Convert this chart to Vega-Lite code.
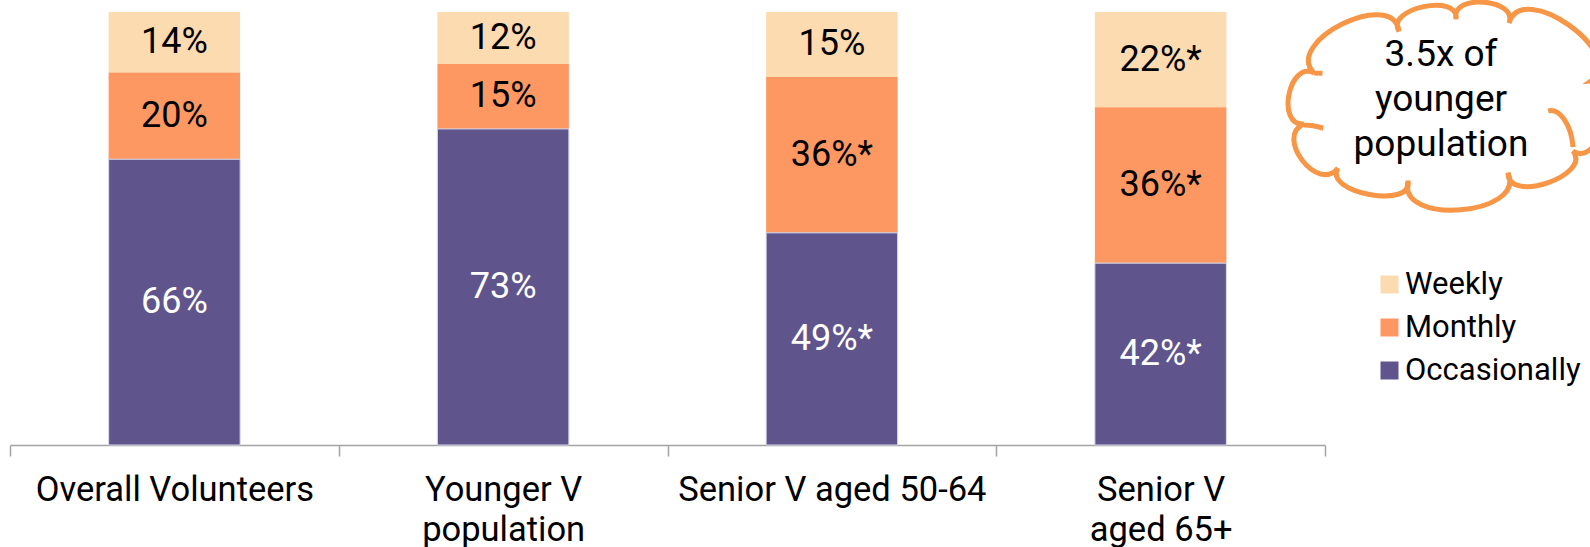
{
  "$schema": "https://vega.github.io/schema/vega-lite/v6.json",
  "padding": {"left": 9, "top": -8, "right": 0, "bottom": 0},
  "bounds": "flush",
  "spacing": 16,
  "background": "white",
  "config": {"view": {"stroke": null}, "font": "Roboto"},
  "datasets": {
    "bars": [
      {"group": "Overall Volunteers", "freq": "Weekly", "value": 14, "label": "14%"},
      {"group": "Overall Volunteers", "freq": "Monthly", "value": 20, "label": "20%"},
      {"group": "Overall Volunteers", "freq": "Occasionally", "value": 66, "label": "66%"},
      {"group": "Younger V population", "freq": "Weekly", "value": 12, "label": "12%"},
      {"group": "Younger V population", "freq": "Monthly", "value": 15, "label": "15%"},
      {"group": "Younger V population", "freq": "Occasionally", "value": 73, "label": "73%"},
      {"group": "Senior V aged 50-64", "freq": "Weekly", "value": 15, "label": "15%"},
      {"group": "Senior V aged 50-64", "freq": "Monthly", "value": 36, "label": "36%*"},
      {"group": "Senior V aged 50-64", "freq": "Occasionally", "value": 49, "label": "49%*"},
      {"group": "Senior V aged 65+", "freq": "Weekly", "value": 22, "label": "22%*"},
      {"group": "Senior V aged 65+", "freq": "Monthly", "value": 36, "label": "36%*"},
      {"group": "Senior V aged 65+", "freq": "Occasionally", "value": 42, "label": "42%*"}
    ],
    "note": [{"note": "3.5x of\nyounger\npopulation"}]
  },
  "hconcat": [
    {
      "width": 1315,
      "height": 433,
      "data": {"name": "bars"},
      "transform": [
        {"calculate": "indexof(['Occasionally','Monthly','Weekly'], datum.freq)", "as": "ord"},
        {"stack": "value", "groupby": ["group"], "sort": [{"field": "ord", "order": "ascending"}], "as": ["v0", "v1"]},
        {"calculate": "(datum.v0 + datum.v1) / 2", "as": "mid"}
      ],
      "encoding": {
        "x": {
          "field": "group",
          "type": "nominal",
          "sort": null,
          "scale": {"paddingInner": 0, "paddingOuter": 0},
          "axis": {
            "title": null,
            "labelAngle": 0,
            "labelFont": "Roboto",
            "labelFontSize": 34.5,
            "labelColor": "black",
            "labelLimit": 600,
            "labelPadding": 17,
            "labelLineHeight": 40,
            "labelBaseline": "top",
            "tickBand": "extent",
            "tickSize": 11,
            "tickWidth": 1.5,
            "tickColor": "#a3a3a3",
            "domainColor": "#a3a3a3",
            "domainWidth": 1.5,
            "labelExpr": "datum.value === 'Younger V population' ? ['Younger V', 'population'] : datum.value === 'Senior V aged 65+' ? ['Senior V', 'aged 65+'] : datum.value"
          }
        }
      },
      "layer": [
        {
          "mark": {"type": "bar", "width": {"band": 0.4}, "stroke": "#d5d9ec", "strokeWidth": 1},
          "encoding": {
            "y": {"field": "v0", "type": "quantitative", "scale": {"domain": [0, 100], "nice": false}, "axis": null},
            "y2": {"field": "v1"},
            "color": {
              "field": "freq",
              "type": "nominal",
              "scale": {"domain": ["Weekly", "Monthly", "Occasionally"], "range": ["#FDDBB1", "#FE9862", "#5F558C"]},
              "legend": {
                "title": null,
                "orient": "none",
                "legendX": 1364,
                "legendY": 257,
                "padding": 0,
                "symbolType": "square",
                "symbolSize": 324,
                "symbolStrokeWidth": 0,
                "symbolOpacity": 1,
                "labelFont": "Roboto",
                "labelFontSize": 31,
                "labelColor": "black",
                "labelOffset": 0,
                "labelLimit": 400,
                "rowPadding": 11
              }
            },
            "strokeOpacity": {"condition": {"test": "datum.freq === 'Occasionally'", "value": 1}, "value": 0}
          }
        },
        {
          "mark": {"type": "text", "font": "Roboto", "fontSize": 36, "baseline": "middle", "align": "center"},
          "encoding": {
            "y": {"field": "mid", "type": "quantitative"},
            "text": {"field": "label"},
            "color": {"condition": {"test": "datum.freq === 'Occasionally'", "value": "white"}, "value": "black"}
          }
        }
      ]
    },
    {
      "width": 200,
      "height": 176,
      "data": {"name": "note"},
      "layer": [
        {
          "mark": {
            "type": "point",
            "shape": "M-0.809,-0.172 C-1.008,-0.3715 -0.305,-0.7185 -0.268,-0.439 C-0.356,-0.583 0.118,-0.684 0.096,-0.516 C0.058,-0.680 0.495,-0.646 0.433,-0.490 C0.516,-0.774 1.195,-0.294 0.955,-0.121 C1.166,-0.138 1.018,0.442 0.841,0.325 C0.9635,0.481 0.4245,0.663 0.427,0.465 C0.545,0.736 -0.283,0.803 -0.210,0.516 C-0.175,0.698 -0.754,0.591 -0.656,0.433 C-0.7815,0.5975 -1.0635,0.2337 -0.873,0.153 C-1.0527,0.1686 -0.969,-0.254 -0.809,-0.172 Z M-0.809,-0.172 L-0.755,-0.170 M-0.873,0.160 Q-0.82,0.16 -0.75,0.18 M0.683,0.07 C0.75,0.05 0.83,0.15 0.841,0.30",
            "size": 98596,
            "filled": false,
            "color": "#F79646",
            "strokeWidth": 5,
            "opacity": 1
          },
          "encoding": {}
        },
        {
          "mark": {"type": "text", "font": "Roboto", "fontSize": 37, "lineHeight": 45, "lineBreak": "\n", "align": "center", "baseline": "middle", "dy": -45, "color": "black"},
          "encoding": {"text": {"field": "note"}}
        }
      ]
    }
  ]
}
